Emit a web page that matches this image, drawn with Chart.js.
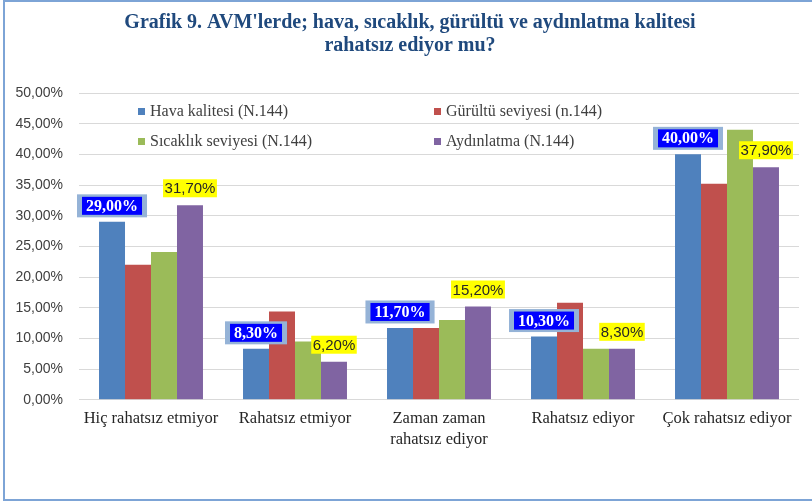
<!DOCTYPE html>
<html lang="tr">
<head>
<meta charset="utf-8">
<title>Grafik 9</title>
<script src="https://cdn.jsdelivr.net/npm/chart.js@4.4.1/dist/chart.umd.min.js"></script>
<style>
    html, body { margin: 0; padding: 0; background: #ffffff; }
    #wrap { position: relative; width: 812px; height: 501px; overflow: hidden; }
    #frame {
        position: absolute; left: 3px; top: 0; width: 900px; height: 497px;
        border: 2px solid #7DA4D6; pointer-events: none;
    }
    canvas { position: absolute; left: 0; top: 0; }
</style>
</head>
<body>
<div id="wrap">
    <canvas id="avmChart" width="812" height="501"></canvas>
    <div id="frame"></div>
</div>
<script>
// Categories and series (percent values)
const chartTitle = ['Grafik 9. AVM\'lerde; hava, sıcaklık, gürültü ve aydınlatma kalitesi', 'rahatsız ediyor mu?'];
const categories = [
    'Hiç rahatsız etmiyor',
    'Rahatsız etmiyor',
    ['Zaman zaman', 'rahatsız ediyor'],
    'Rahatsız ediyor',
    'Çok rahatsız ediyor'
];
const seriesNames = [
    'Hava kalitesi (N.144)',
    'Gürültü seviyesi (n.144)',
    'Sıcaklık seviyesi (N.144)',
    'Aydınlatma (N.144)'
];
const havaKalitesi = [29.0, 8.3, 11.7, 10.3, 40.0];
const gurultuSeviyesi = [22.0, 14.4, 11.7, 15.8, 35.2];
const sicaklikSeviyesi = [24.1, 9.5, 13.0, 8.3, 44.0];
const aydinlatma = [31.7, 6.2, 15.2, 8.3, 37.9];
const yTicks = [0, 5, 10, 15, 20, 25, 30, 35, 40, 45, 50];

(function () {
    "use strict";
    const colors = ['#4F81BD', '#C0504D', '#9BBB59', '#8064A2'];
    const values = [havaKalitesi, gurultuSeviyesi, sicaklikSeviyesi, aydinlatma];

    function formatPct(v) {
        return v.toFixed(2).replace('.', ',') + '%';
    }

    // Title, centred a bit right of the canvas middle like the original
    const headTitle = {
        id: 'headTitle',
        afterDraw: function (chart) {
            const ctx = chart.ctx;
            ctx.save();
            ctx.font = 'bold 20px "Liberation Serif", serif';
            ctx.fillStyle = '#1F497D';
            ctx.textAlign = 'center';
            ctx.textBaseline = 'middle';
            chartTitle.forEach(function (line, i) {
                ctx.fillText(line, 410, 23 + i * 23);
            });
            ctx.restore();
        }
    };

    // Legend drawn inside the plot area, two columns
    const insideLegend = {
        id: 'insideLegend',
        afterDatasetsDraw: function (chart) {
            const ctx = chart.ctx;
            const area = chart.chartArea;
            const colX = [area.left + 59, area.left + 355];
            const rowY = [area.top + 19, area.top + 49];
            ctx.save();
            ctx.font = '16px "Liberation Serif", serif';
            ctx.textBaseline = 'middle';
            ctx.textAlign = 'left';
            chart.data.datasets.forEach(function (ds, i) {
                const x = colX[i % 2];
                const y = rowY[Math.floor(i / 2)];
                ctx.fillStyle = ds.backgroundColor;
                ctx.fillRect(x, y - 4, 7, 7);
                ctx.fillStyle = '#404040';
                ctx.fillText(ds.label, x + 12, y);
            });
            ctx.restore();
        }
    };

    // Highlighted value labels for the first and last series
    const valueLabels = {
        id: 'valueLabels',
        afterDatasetsDraw: function (chart) {
            const ctx = chart.ctx;
            ctx.save();
            ctx.textAlign = 'center';
            ctx.textBaseline = 'middle';
            // blue boxed labels (Hava kalitesi)
            chart.getDatasetMeta(0).data.forEach(function (bar, j) {
                const text = formatPct(chart.data.datasets[0].data[j]);
                ctx.font = 'bold 16px "Liberation Serif", serif';
                const w = ctx.measureText(text).width + 8;
                const cy = bar.y - 16;
                ctx.fillStyle = '#95B3D7';
                ctx.fillRect(bar.x - w / 2 - 5, cy - 11.5, w + 10, 23);
                ctx.fillStyle = '#0000FF';
                ctx.fillRect(bar.x - w / 2, cy - 9, w, 18);
                ctx.fillStyle = '#FFFFFF';
                ctx.fillText(text, bar.x, cy + 1);
            });
            // yellow labels (Aydınlatma)
            chart.getDatasetMeta(3).data.forEach(function (bar, j) {
                const text = formatPct(chart.data.datasets[3].data[j]);
                ctx.font = '15px "Liberation Sans", sans-serif';
                const w = ctx.measureText(text).width + 3;
                const cy = bar.y - 17;
                ctx.fillStyle = '#FFFF00';
                ctx.fillRect(bar.x - w / 2, cy - 9, w, 18);
                ctx.fillStyle = '#262626';
                ctx.fillText(text, bar.x, cy + 1);
            });
            ctx.restore();
        }
    };

    const context = document.getElementById('avmChart').getContext('2d');
    const chart = new Chart(context, {
        type: 'bar',
        data: {
            labels: categories,
            datasets: seriesNames.map(function (name, i) {
                return {
                    label: name,
                    data: values[i],
                    backgroundColor: colors[i],
                    borderWidth: 0,
                    categoryPercentage: 0.722,
                    barPercentage: 1.0
                };
            })
        },
        options: {
            responsive: false,
            animation: false,
            devicePixelRatio: 1,
            layout: {
                padding: { left: 0, right: 13, top: 93, bottom: 42 }
            },
            scales: {
                y: {
                    min: 0,
                    max: 50,
                    afterBuildTicks: function (axis) {
                        axis.ticks = yTicks.map(function (v) { return { value: v }; });
                    },
                    afterFit: function (axis) {
                        axis.width = 79;
                    },
                    ticks: {
                        padding: 16,
                        color: '#404040',
                        font: { family: '"Liberation Sans", sans-serif', size: 14 },
                        callback: function (value) {
                            return formatPct(value);
                        }
                    },
                    grid: {
                        color: '#D9D9D9',
                        lineWidth: 1,
                        drawTicks: false
                    },
                    border: { display: false }
                },
                x: {
                    ticks: {
                        padding: 9,
                        color: '#262626',
                        maxRotation: 0,
                        autoSkip: false,
                        font: { family: '"Liberation Serif", serif', size: 16.5, lineHeight: 1.25 }
                    },
                    grid: { display: false, drawTicks: false },
                    border: { display: false }
                }
            },
            plugins: {
                legend: { display: false },
                tooltip: { enabled: false },
                title: { display: false }
            }
        },
        plugins: [headTitle, insideLegend, valueLabels]
    });
}());
</script>
</body>
</html>
